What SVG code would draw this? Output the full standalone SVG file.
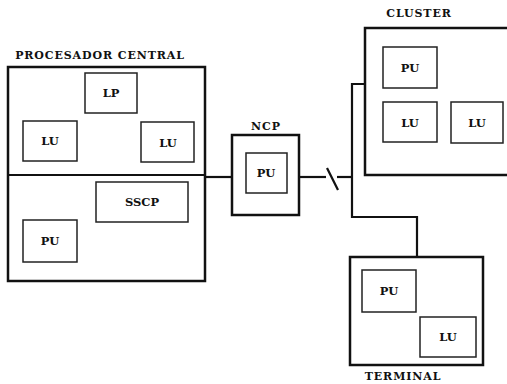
<svg xmlns="http://www.w3.org/2000/svg" width="507" height="384" viewBox="0 0 507 384">
<style>
.outer{fill:none;stroke:#111;stroke-width:2.5}
.inner{fill:none;stroke:#222;stroke-width:1.5}
.conn{fill:none;stroke:#111;stroke-width:2.2}
text{font-family:"DejaVu Serif","Liberation Serif",serif;font-weight:bold;font-size:11.5px;fill:#111;text-anchor:middle}
.title{font-size:11px;letter-spacing:0.9px}
</style>
<rect width="507" height="384" fill="#fff"/>
<g id="procesador-central">
<text class="title" x="100" y="59">PROCESADOR CENTRAL</text>
<rect class="outer" x="8" y="67" width="197" height="214"/>
<line class="conn" x1="8" y1="175" x2="205" y2="175"/>
</g>
<g id="pc-lp"><rect class="inner" x="85" y="73" width="52" height="40"/><text x="111" y="97">LP</text></g>
<g id="pc-lu1"><rect class="inner" x="23" y="121" width="54" height="40"/><text x="50" y="145">LU</text></g>
<g id="pc-lu2"><rect class="inner" x="141" y="122" width="53" height="40"/><text x="168" y="147">LU</text></g>
<g id="pc-sscp"><rect class="inner" x="96" y="182" width="92" height="40"/><text x="142" y="206">SSCP</text></g>
<g id="pc-pu"><rect class="inner" x="23" y="220" width="54" height="42"/><text x="50" y="245">PU</text></g>
<g id="ncp">
<text class="title" x="266" y="130">NCP</text>
<rect class="outer" x="232" y="135" width="67" height="80"/>
</g>
<g id="ncp-pu"><rect class="inner" x="246" y="153" width="41" height="40"/><text x="266" y="177">PU</text></g>
<g id="cluster">
<text class="title" x="419" y="17">CLUSTER</text>
<path class="outer" d="M509 28 H365 V175 H509"/>
</g>
<g id="cl-pu"><rect class="inner" x="383" y="47" width="54" height="41"/><text x="410" y="72">PU</text></g>
<g id="cl-lu1"><rect class="inner" x="383" y="102" width="54" height="40"/><text x="410" y="127">LU</text></g>
<g id="cl-lu2"><rect class="inner" x="451" y="102" width="52" height="41"/><text x="477" y="127">LU</text></g>
<g id="terminal">
<rect class="outer" x="350" y="257" width="133" height="108"/>
<text class="title" x="403" y="380">TERMINAL</text>
</g>
<g id="te-pu"><rect class="inner" x="362" y="270" width="54" height="42"/><text x="389" y="295">PU</text></g>
<g id="te-lu"><rect class="inner" x="420" y="317" width="56" height="40"/><text x="448" y="341">LU</text></g>
<g id="connectors">
<line class="conn" x1="205" y1="177" x2="232" y2="177"/>
<line class="conn" x1="299" y1="177" x2="326" y2="177"/>
<line class="conn" x1="327" y1="168" x2="338" y2="190"/>
<line class="conn" x1="337" y1="177" x2="352" y2="177"/>
<path class="conn" d="M365 84 H352 V217 H417 V257"/>
</g>
</svg>
